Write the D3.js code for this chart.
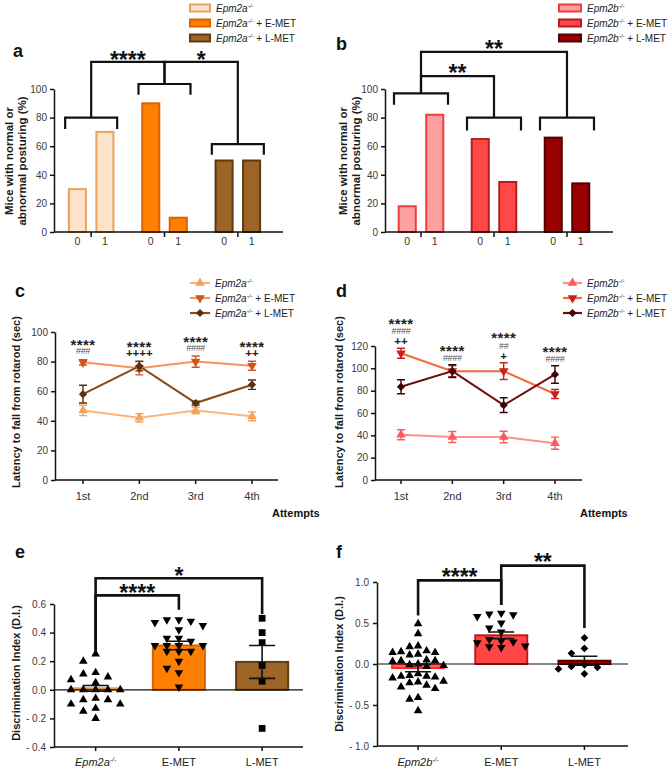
<!DOCTYPE html>
<html><head><meta charset="utf-8">
<script src="https://cdn.jsdelivr.net/npm/d3@7"></script>
<style>
body{margin:0;background:#fff}
svg{display:block;font-family:"Liberation Sans",Arial,Helvetica,sans-serif}
</style></head>
<body><svg id="chart"></svg>
<script>
// ================= DATA =================
const genoA = "Epm2a", genoB = "Epm2b";
const treatments = ["", " + E-MET", " + L-MET"];
const diCats = ["E-MET", "L-MET"];

// a / b : posture (%)
const postureCats = ["0", "1"];
const postureA = [[30, 70], [90, 10], [50, 50]];
const postureB = [[18, 82], [65, 35], [66, 34]];
const postureTicks = [0, 20, 40, 60, 80, 100];

// c / d : rotarod latency (sec)
const attempts = ["1st", "2nd", "3rd", "4th"];
const rotA_ko = [47, 42, 47, 43],        rotA_ko_err = [3.5, 2.8, 2.2, 3];
const rotA_e  = [79.5, 75.5, 80, 77.2],  rotA_e_err  = [1.8, 4.5, 3.8, 3];
const rotA_l  = [58, 77, 52, 64.4],      rotA_l_err  = [6, 3.3, 1.3, 3.2];
const rotB_ko = [40.5, 38.5, 38.5, 33],  rotB_ko_err = [4.5, 4.9, 5.2, 5.4];
const rotB_e  = [113.5, 97.5, 97.5, 77], rotB_e_err  = [4.5, 5, 7.5, 4];
const rotB_l  = [83.5, 97.5, 67, 94.5],  rotB_l_err  = [6.3, 5.7, 6.6, 7.8];
const rotTicksA = [0, 20, 40, 60, 80, 100];
const rotTicksB = [0, 20, 40, 60, 80, 100, 120];
const sigA_stars = ["****", "****", "****", "****"];
const sigA_hash  = ["###", "", "####", ""];
const sigA_plus  = ["", "++++", "", "++"];
const sigB_stars = ["****", "****", "****", "****"];
const sigB_hash  = ["####", "####", "##", "####"];
const sigB_plus  = ["++", "", "+", ""];

// e / f : discrimination index
const diMeansE = [0.01, 0.31, 0.195], diSemE = [0.02, 0.03, 0.115];
const diE_ko = [0.25, 0.20, 0.12, 0.11, 0.09, 0.07, 0.05, 0.0, 0.0, 0.0, 0.0, 0.0,
                -0.06, -0.07, -0.07, -0.10, -0.10, -0.13, -0.15, -0.20];
const diE_e  = [0.49, 0.49, 0.48, 0.47, 0.45, 0.42, 0.36, 0.36, 0.34, 0.31, 0.31, 0.31,
                0.31, 0.27, 0.27, 0.27, 0.20, 0.15, 0.12, 0.02];
const diE_l  = [0.50, 0.40, 0.33, 0.17, 0.06, -0.27];
const diTicksE = [-0.4, -0.2, 0, 0.2, 0.4, 0.6];

const diMeansF = [-0.05, 0.35, 0.04], diSemF = [0.045, 0.04, 0.055];
const diF_ko = [0.49, 0.37, 0.22, 0.21, 0.16, 0.15, 0.14, 0.14, 0.12, 0.11, 0.05, 0.04,
                0.04, 0.03, 0.0, -0.01, -0.02, -0.03, -0.12, -0.14, -0.15, -0.15, -0.16,
                -0.17, -0.21, -0.22, -0.23, -0.26, -0.28, -0.30, -0.41, -0.43, -0.57];
const diF_e  = [0.62, 0.61, 0.60, 0.58, 0.50, 0.44, 0.39, 0.30, 0.28, 0.27, 0.26, 0.22,
                0.21, 0.20];
const diF_l  = [0.32, 0.19, 0.13, -0.01, -0.03, -0.04, -0.06, -0.12];
const diTicksF = [-1, -0.5, 0, 0.5, 1];

// ================= STYLE =================
const FONT = "'Liberation Sans', Arial, Helvetica, sans-serif";
const palA = {fill: ["#fde3cb", "#ff8000", "#9c6426"], stroke: ["#eaa35e", "#e06000", "#5e3b12"]};
const palB = {fill: ["#ffa0a0", "#ff4848", "#990000"], stroke: ["#f23c3c", "#b81d1d", "#520000"]};
const lineA = {line: ["#fbb57c", "#f4955a", "#8a4a14"], mark: ["#f7a35c", "#d4541f", "#5a300c"]};
const lineB = {line: ["#ff9090", "#f46a3a", "#6e0c0c"], mark: ["#ff5a5a", "#c8201c", "#3c0606"]};
const barE = {fill: ["#fde3cb", "#ff8000", "#9c6426"], stroke: ["#e8903e", "#d9620a", "#5e3b12"]};
const barF = {fill: ["#ff6060", "#ff4545", "#990000"], stroke: ["#ff2a2a", "#c01a1a", "#520000"]};

const W = 669, H = 771;
const svg = d3.select("#chart").attr("width", W).attr("height", H);
svg.append("rect").attr("width", W).attr("height", H).attr("fill", "#fff");

function styleAxis(g) {
  g.select(".domain").attr("stroke", "#111").attr("stroke-width", 1.5);
  g.selectAll(".tick line").attr("stroke", "#111").attr("stroke-width", 1.5);
  g.selectAll(".tick text").attr("fill", "#3a3a3a").attr("font-size", 10).attr("font-family", FONT);
}
function panelLetter(x, y, t) {
  svg.append("text").attr("x", x).attr("y", y).attr("font-size", 18)
    .attr("font-weight", "bold").attr("fill", "#111").text(t);
}
function yLabel(lines, xs, cy, fs) {
  lines.forEach((t, i) => svg.append("text")
    .attr("transform", `translate(${xs[i]},${cy}) rotate(-90)`)
    .attr("text-anchor", "middle").attr("font-weight", "bold")
    .attr("font-size", fs).attr("fill", "#1a1a1a").text(t));
}
function genoText(x, y, base, suffix, fs, anchor) {
  const t = svg.append("text").attr("x", x).attr("y", y).attr("font-size", fs)
    .attr("fill", "#222").attr("text-anchor", anchor || "start");
  t.append("tspan").attr("font-style", "italic").text(base);
  t.append("tspan").attr("font-style", "italic").attr("font-size", fs * 0.62)
    .attr("dy", -fs * 0.38).text("-/-");
  if (suffix) t.append("tspan").attr("dy", fs * 0.38).text(suffix);
  return t;
}
function symbolPath(kind, size) {
  if (kind === "diamond" || kind === "square") return d3.symbol(d3.symbolSquare, size)();
  return d3.symbol(d3.symbolTriangle, size)();
}
function symbolRot(kind) { return kind === "down" ? 180 : kind === "diamond" ? 45 : 0; }
function drawSym(kind, size, x, y, fill) {
  svg.append("path").attr("d", symbolPath(kind, size))
    .attr("transform", `translate(${x},${y}) rotate(${symbolRot(kind)})`).attr("fill", fill);
}
function stars(x, cy, text, fs) {
  svg.append("text").attr("x", x).attr("y", cy + fs * 0.57).attr("text-anchor", "middle")
    .attr("font-size", fs).attr("font-weight", "bold").attr("fill", "#111").text(text);
}
// significance brackets: from group "from" at height y0, up to "at", across to "to", down to y1
function brackets(list, cx, y, sw) {
  list.forEach(b => {
    svg.append("path")
      .attr("d", `M${cx(b.from)},${y(b.y0)}V${y(b.at)}H${cx(b.to)}V${y(b.y1)}`)
      .attr("fill", "none").attr("stroke", "#111").attr("stroke-width", sw);
    stars((cx(b.from) + cx(b.to)) / 2, y(b.textAt), b.text, 23);
  });
}

// ================= PANELS a / b =================
function posturePanel(o) {
  const y = d3.scaleLinear().domain([0, 100]).range([o.yBottom, o.yTop]);
  const gx = d3.scaleBand().domain(d3.range(o.data.length)).range(o.groupRange);
  const bw = gx.bandwidth();
  const sx = d3.scaleBand().domain(postureCats).range([bw / 2 - 27.5, bw / 2 + 27.5])
    .paddingInner(0.38).paddingOuter(0.19);
  const cx = i => gx(i) + bw / 2;
  o.data.forEach((vals, i) => vals.forEach((v, j) => {
    const bx = gx(i) + sx(postureCats[j]);
    svg.append("rect").attr("x", bx).attr("width", sx.bandwidth())
      .attr("y", y(v)).attr("height", y(0) - y(v))
      .attr("fill", o.pal.fill[i]).attr("stroke", o.pal.stroke[i]).attr("stroke-width", 2);
    svg.append("text").attr("x", bx + sx.bandwidth() / 2).attr("y", o.yBottom + 13)
      .attr("text-anchor", "middle").attr("font-size", 10.5).attr("fill", "#333").text(postureCats[j]);
  }));
  const ya = svg.append("g").attr("transform", `translate(${o.axisX},0)`)
    .call(d3.axisLeft(y).tickValues(postureTicks).tickSize(4).tickPadding(3).tickSizeOuter(0));
  styleAxis(ya);
  svg.append("line").attr("x1", o.axisX).attr("x2", o.axisEnd).attr("y1", o.yBottom).attr("y2", o.yBottom)
    .attr("stroke", "#111").attr("stroke-width", 1.5);
  d3.range(o.data.length).forEach(i => svg.append("line")
    .attr("x1", cx(i)).attr("x2", cx(i)).attr("y1", o.yBottom).attr("y2", o.yBottom + 5)
    .attr("stroke", "#111").attr("stroke-width", 1.5));
  // group brackets
  o.groupBr.forEach((g, i) => svg.append("path")
    .attr("d", `M${cx(i) - o.halfW},${y(g[1])}V${y(g[0])}H${cx(i) + o.halfW}V${y(g[1])}`)
    .attr("fill", "none").attr("stroke", "#111").attr("stroke-width", 2.2));
  brackets(o.links, cx, y, 2.2);
  // legend
  o.pal.fill.forEach((f, i) => {
    const cy = o.legY[i];
    svg.append("rect").attr("x", o.legX).attr("y", cy - 3.5).attr("width", o.legW).attr("height", 7)
      .attr("fill", f).attr("stroke", o.pal.stroke[i]).attr("stroke-width", 2);
    genoText(o.legX + o.legW + 6, cy + 3.5, o.geno, treatments[i], 10);
  });
}

posturePanel({
  data: postureA, pal: palA, geno: genoA,
  axisX: 54, axisEnd: 283, yBottom: 232, yTop: 89, groupRange: [54.5, 274.5],
  halfW: 26, groupBr: [[80, 72], [103.5, 96], [61.5, 54]],
  links: [{from: 0, to: 1, y0: 80, at: 119, y1: 103.5, text: "****", textAt: 124},
          {from: 1, to: 2, y0: 103.5, at: 119, y1: 61.5, text: "*", textAt: 124}],
  legX: 190, legW: 20, legY: [8, 23, 38]
});
posturePanel({
  data: postureB, pal: palB, geno: genoB,
  axisX: 385, axisEnd: 613, yBottom: 232, yTop: 89, groupRange: [384.5, 603.5],
  halfW: 27, groupBr: [[97, 89], [80, 71], [80, 71]],
  links: [{from: 0, to: 1, y0: 97, at: 109, y1: 80, text: "**", textAt: 114.6},
          {from: 0, to: 2, y0: 97, at: 126, y1: 80, text: "**", textAt: 131.5}],
  legX: 559, legW: 22, legY: [8, 23, 38]
});
panelLetter(13, 57, "a");
panelLetter(336, 50, "b");
yLabel(["Mice with normal or", "abnormal posturing (%)"], [13, 25.5], 161, 11.5);
yLabel(["Mice with normal or", "abnormal posturing (%)"], [347, 359.5], 161, 11.5);

// ================= PANELS c / d =================
function linePanel(o) {
  const x = d3.scalePoint().domain(attempts).range(o.xRange);
  const y = d3.scaleLinear().domain([0, o.yMax]).range([480, o.yTop]);
  const ya = svg.append("g").attr("transform", `translate(${o.axisX},0)`)
    .call(d3.axisLeft(y).tickValues(o.ticks).tickSize(4).tickPadding(3).tickSizeOuter(0));
  styleAxis(ya);
  svg.append("line").attr("x1", o.axisX).attr("x2", o.axisEnd).attr("y1", 480).attr("y2", 480)
    .attr("stroke", "#111").attr("stroke-width", 1.5);
  attempts.forEach(a => {
    svg.append("line").attr("x1", x(a)).attr("x2", x(a)).attr("y1", 480).attr("y2", 484)
      .attr("stroke", "#111").attr("stroke-width", 1.5);
    svg.append("text").attr("x", x(a)).attr("y", 500).attr("text-anchor", "middle")
      .attr("font-size", 11).attr("fill", "#333").text(a);
  });
  const line = d3.line();
  o.series.forEach((s, k) => svg.append("path")
    .attr("d", line(attempts.map((a, i) => [x(a), y(s.v[i])])))
    .attr("fill", "none").attr("stroke", o.pal.line[k]).attr("stroke-width", 2));
  o.series.forEach((s, k) => attempts.forEach((a, i) => {
    const c = o.pal.mark[k], xx = x(a), y1 = y(s.v[i] + s.e[i]), y2 = y(s.v[i] - s.e[i]);
    svg.append("path").attr("d", `M${xx},${y1}V${y2}M${xx - 4},${y1}H${xx + 4}M${xx - 4},${y2}H${xx + 4}`)
      .attr("stroke", c).attr("stroke-width", 1.4).attr("fill", "none");
    drawSym(s.kind, s.kind === "diamond" ? 34 : 40, xx, y(s.v[i]), c);
  }));
  // significance annotations: one stacked text block per attempt
  attempts.forEach((a, i) => {
    const top = d3.max(o.series, s => s.v[i] + s.e[i]);
    const lines = [[o.sig[0][i], "s"], [o.sig[1][i], "h"], [o.sig[2][i], "p"]].filter(d => d[0]);
    const n = lines.length;
    const t = svg.append("text").attr("text-anchor", "middle").attr("fill", "#222");
    lines.forEach((d, j) => {
      const cy = y(top) - o.annGap - (n - 1 - j) * o.annStep;
      const ts = t.append("tspan").attr("x", x(a)).text(d[0]);
      if (d[1] === "s") ts.attr("y", cy + 15 * 0.57).attr("font-size", 15).attr("font-weight", "bold")
        .attr("letter-spacing", 0.4);
      if (d[1] === "h") ts.attr("y", cy + 3.3).attr("font-size", 9).attr("fill", "#555")
        .attr("letter-spacing", -0.3);
      if (d[1] === "p") ts.attr("y", cy + 4).attr("font-size", 11.5).attr("font-weight", "bold");
    });
  });
  // legend
  o.series.forEach((s, k) => {
    const cy = o.legY[k];
    svg.append("line").attr("x1", o.legX).attr("x2", o.legX + o.legW).attr("y1", cy).attr("y2", cy)
      .attr("stroke", o.pal.line[k]).attr("stroke-width", 2.2);
    drawSym(s.kind, s.kind === "diamond" ? 34 : 40, o.legX + o.legW / 2, cy, o.pal.mark[k]);
    genoText(o.legX + o.legW + 5, cy + 3.5, o.geno, treatments[k], 10);
  });
  svg.append("text").attr("x", o.attX).attr("y", 517).attr("font-size", 11)
    .attr("font-weight", "bold").attr("fill", "#111").text("Attempts");
}

linePanel({
  geno: genoA, pal: lineA, xRange: [83, 252], axisX: 55, axisEnd: 278, yMax: 100, yTop: 332,
  ticks: rotTicksA,
  series: [{v: rotA_ko, e: rotA_ko_err, kind: "up"},
           {v: rotA_e, e: rotA_e_err, kind: "down"},
           {v: rotA_l, e: rotA_l_err, kind: "diamond"}],
  sig: [sigA_stars, sigA_hash, sigA_plus], annGap: 8.5, annStep: 9.5,
  legX: 190, legW: 20, legY: [283, 298, 313], attX: 272
});
linePanel({
  geno: genoB, pal: lineB, xRange: [401, 555], axisX: 375, axisEnd: 582, yMax: 120, yTop: 346,
  ticks: rotTicksB,
  series: [{v: rotB_ko, e: rotB_ko_err, kind: "up"},
           {v: rotB_e, e: rotB_e_err, kind: "down"},
           {v: rotB_l, e: rotB_l_err, kind: "diamond"}],
  sig: [sigB_stars, sigB_hash, sigB_plus], annGap: 7, annStep: 10.5,
  legX: 563, legW: 19, legY: [283, 298, 313], attX: 580
});
panelLetter(15, 297, "c");
panelLetter(336, 297, "d");
yLabel(["Latency to fall from rotarod (sec)"], [20], 402, 11);
yLabel(["Latency to fall from rotarod (sec)"], [343], 402, 11);

// ================= PANELS e / f =================
function swarm(values, y, minDy, maxK) {
  const order = values.map((v, i) => i).sort((a, b) => values[b] - values[a]);
  const placed = [], ks = new Array(values.length);
  const cand = [0];
  for (let k = 1; k <= maxK; k++) cand.push(-k, k);
  order.forEach(i => {
    const py = y(values[i]);
    let best = null, bestD = -1;
    for (const k of cand) {
      const d = d3.min(placed.filter(p => p.k === k), p => Math.abs(p.y - py));
      const dd = d === undefined ? Infinity : d;
      if (dd >= minDy) { best = k; break; }
      if (dd > bestD) { bestD = dd; best = k; }
    }
    placed.push({k: best, y: py}); ks[i] = best;
  });
  return ks;
}
function fmtSigned(d) { return d < 0 ? "- " + Math.abs(d).toFixed(1) : d.toFixed(1); }

function diPanel(o) {
  const y = d3.scaleLinear().domain(o.domain).range([o.yBottom, o.yTop]);
  const x = d3.scaleBand().domain(d3.range(3)).range(o.xRange).paddingInner(0.375).paddingOuter(0.1875);
  const cx = i => x(i) + x.bandwidth() / 2;
  o.means.forEach((m, i) => svg.append("rect")
    .attr("x", x(i)).attr("width", x.bandwidth())
    .attr("y", Math.min(y(m), y(0))).attr("height", Math.abs(y(m) - y(0)))
    .attr("fill", o.pal.fill[i]).attr("stroke", o.pal.stroke[i]).attr("stroke-width", 2));
  const ya = svg.append("g").attr("transform", `translate(${o.axisX},0)`)
    .call(d3.axisLeft(y).tickValues(o.ticks).tickFormat(fmtSigned).tickSize(4).tickPadding(4).tickSizeOuter(0));
  styleAxis(ya);
  svg.append("line").attr("x1", o.axisX).attr("x2", o.axisEnd).attr("y1", y(0)).attr("y2", y(0))
    .attr("stroke", "#111").attr("stroke-width", 1.2);
  svg.append("line").attr("x1", o.axisX).attr("x2", o.axisEnd).attr("y1", o.yBottom).attr("y2", o.yBottom)
    .attr("stroke", "#111").attr("stroke-width", 1.5);
  d3.range(3).forEach(i => svg.append("line").attr("x1", cx(i)).attr("x2", cx(i))
    .attr("y1", o.yBottom).attr("y2", o.yBottom + 4).attr("stroke", "#111").attr("stroke-width", 1.5));
  o.points.forEach((pts, i) => {
    const ks = swarm(pts, y, 7.5, o.maxK[i]);
    pts.forEach((v, j) => drawSym(o.kinds[i], o.sizes[i], cx(i) + ks[j] * o.colW[i], y(v), "#000"));
  });
  o.means.forEach((m, i) => {
    const xx = cx(i), y1 = y(m + o.sem[i]), y2 = y(m - o.sem[i]);
    svg.append("path").attr("d", `M${xx},${y1}V${y2}M${xx - 13},${y1}H${xx + 13}M${xx - 13},${y2}H${xx + 13}`)
      .attr("stroke", "#111").attr("stroke-width", 1.6).attr("fill", "none");
  });
  brackets(o.links, cx, y, 2.6);
  genoText(cx(0), 766, o.geno, "", 11, "middle");
  diCats.forEach((c, k) => svg.append("text").attr("x", cx(k + 1)).attr("y", 766)
    .attr("text-anchor", "middle").attr("font-size", 11).attr("fill", "#222").text(c));
}

diPanel({
  geno: genoA, pal: barE, domain: [-0.4, 0.6], yBottom: 747, yTop: 604,
  xRange: [54, 303.75], axisX: 54, axisEnd: 303, ticks: diTicksE,
  means: diMeansE, sem: diSemE, points: [diE_ko, diE_e, diE_l],
  kinds: ["up", "down", "square"], sizes: [32, 32, 46], colW: [12.3, 12, 12], maxK: [2, 2, 0],
  links: [{from: 0, to: 1, y0: 0.27, at: 0.66, y1: 0.56, text: "****", textAt: 0.71},
          {from: 0, to: 2, y0: 0.27, at: 0.78, y1: 0.53, text: "*", textAt: 0.83}]
});
diPanel({
  geno: genoB, pal: barF, domain: [-1, 1], yBottom: 746, yTop: 582,
  xRange: [376.5, 626], axisX: 377, axisEnd: 628, ticks: diTicksF,
  means: diMeansF, sem: diSemF, points: [diF_ko, diF_e, diF_l],
  kinds: ["up", "down", "diamond"], sizes: [32, 32, 30], colW: [8.5, 12, 13], maxK: [3, 2, 2],
  links: [{from: 0, to: 1, y0: 0.59, at: 1.02, y1: 0.72, text: "****", textAt: 1.12},
          {from: 1, to: 2, y0: 0.72, at: 1.2, y1: 0.44, text: "**", textAt: 1.31}]
});
panelLetter(15, 558, "e");
panelLetter(336, 558, "f");
yLabel(["Discrimination Index (D.I.)"], [20], 673, 11);
yLabel(["Discrimination Index (D.I.)"], [343], 664, 11);
</script>
</body></html>
